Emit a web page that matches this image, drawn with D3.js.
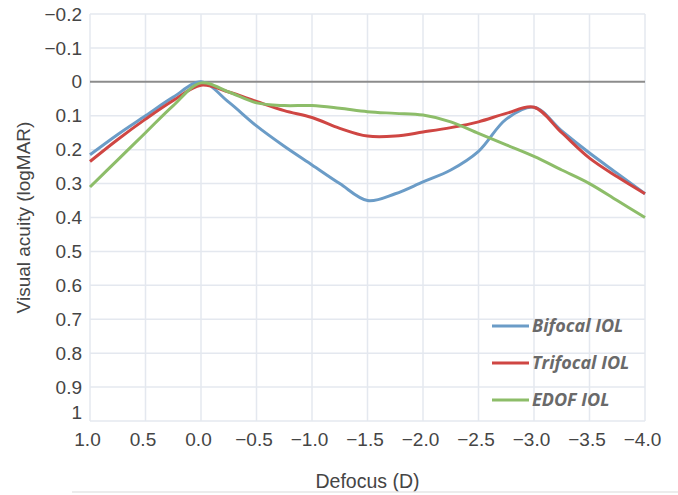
<!DOCTYPE html>
<html>
<head>
<meta charset="utf-8">
<script src="https://cdn.jsdelivr.net/npm/d3@7"></script>
<style>
  html, body { margin: 0; padding: 0; background: #fff; }
  svg { display: block; }
</style>
</head>
<body>
<div id="chart"></div>
<script>
// defocus values (D)
const defocus = [1.0, 0.75, 0.5, 0.25, 0.0, -0.25, -0.5, -0.75, -1.0, -1.25, -1.5, -1.75,
  -2.0, -2.25, -2.5, -2.75, -3.0, -3.25, -3.5, -3.75, -4.0];

const bifocal = [0.215, 0.155, 0.10, 0.045, 0.0, 0.06, 0.13, 0.19, 0.245, 0.30, 0.35, 0.33,
  0.295, 0.26, 0.205, 0.11, 0.075, 0.145, 0.21, 0.27, 0.33];
const trifocal = [0.235, 0.17, 0.11, 0.055, 0.01, 0.03, 0.058, 0.085, 0.105, 0.137, 0.16, 0.16,
  0.148, 0.135, 0.118, 0.093, 0.075, 0.15, 0.225, 0.28, 0.33];
const edof = [0.31, 0.23, 0.15, 0.07, 0.003, 0.03, 0.062, 0.07, 0.07, 0.078, 0.088, 0.093,
  0.098, 0.118, 0.152, 0.186, 0.22, 0.26, 0.30, 0.35, 0.40];

const seriesNames = ['Bifocal IOL', 'Trifocal IOL', 'EDOF IOL'];
const seriesValues = [bifocal, trifocal, edof];
const seriesColors = ['#6b9cc7', '#cf4643', '#8dbd69'];

const xTicks = [1.0, 0.5, 0.0, -0.5, -1.0, -1.5, -2.0, -2.5, -3.0, -3.5, -4.0];
const yTicks = [-0.2, -0.1, 0, 0.1, 0.2, 0.3, 0.4, 0.5, 0.6, 0.7, 0.8, 0.9, 1];

const config = {
  width: 678,
  height: 495,
  margin: {top: 14, right: 33, bottom: 74, left: 90}
};
const plotW = config.width - config.margin.left - config.margin.right;
const plotH = config.height - config.margin.top - config.margin.bottom;

const xScale = d3.scaleLinear().domain([1.0, -4.0]).range([0, plotW]);
const yScale = d3.scaleLinear().domain([-0.2, 1]).range([0, plotH]);

const svg = d3.select('#chart').append('svg')
  .attr('width', config.width)
  .attr('height', config.height);

const g = svg.append('g')
  .attr('transform', `translate(${config.margin.left},${config.margin.top})`);

const fmtMinus = s => s.replace('-', '\u2212');
const labelFont = 'Liberation Sans, Arial, sans-serif';

// grid
g.append('g')
  .selectAll('line')
  .data(xTicks)
  .enter()
  .append('line')
  .attr('x1', d => xScale(d))
  .attr('x2', d => xScale(d))
  .attr('y1', 0)
  .attr('y2', plotH)
  .attr('stroke', '#e4e8ef')
  .attr('stroke-width', 1.5);

g.append('g')
  .selectAll('line')
  .data(yTicks)
  .enter()
  .append('line')
  .attr('x1', 0)
  .attr('x2', plotW)
  .attr('y1', d => yScale(d))
  .attr('y2', d => yScale(d))
  .attr('stroke', d => d === 0 ? '#8c8c8c' : '#e4e8ef')
  .attr('stroke-width', d => d === 0 ? 2 : 1.5);

// y axis labels
const yAxis = g.append('g')
  .call(d3.axisLeft(yScale).tickValues(yTicks).tickSize(0).tickPadding(8)
    .tickFormat(d => d === 0 ? '0' : (d === 1 ? '1' : fmtMinus(d3.format('.1f')(d)))));
yAxis.select('.domain').remove();
yAxis.selectAll('text')
  .attr('font-family', labelFont)
  .attr('font-size', 19)
  .attr('fill', '#454545');
yAxis.selectAll('.tick').filter(d => d === 1).select('text').attr('dy', '-0.15em');

// x axis labels
const xAxis = g.append('g')
  .attr('transform', `translate(0,${plotH})`)
  .call(d3.axisBottom(xScale).tickValues(xTicks).tickSize(0).tickPadding(12)
    .tickFormat(d => fmtMinus(d3.format('.1f')(d))));
xAxis.select('.domain').remove();
xAxis.selectAll('text')
  .attr('font-family', labelFont)
  .attr('font-size', 19)
  .attr('fill', '#454545')
  .attr('dx', -3);

// axis titles
svg.append('text')
  .attr('x', config.margin.left + plotW / 2)
  .attr('y', 488)
  .attr('text-anchor', 'middle')
  .attr('font-family', labelFont)
  .attr('font-size', 19.5)
  .attr('fill', '#454545')
  .text('Defocus (D)');

svg.append('text')
  .attr('transform', `translate(30,${config.margin.top + plotH / 2}) rotate(-90)`)
  .attr('text-anchor', 'middle')
  .attr('font-family', labelFont)
  .attr('font-size', 19)
  .attr('fill', '#454545')
  .text('Visual acuity (logMAR)');

// bottom rule
svg.append('line')
  .attr('x1', 72).attr('x2', 678)
  .attr('y1', 492).attr('y2', 492)
  .attr('stroke', '#e6e6e6')
  .attr('stroke-width', 1.5);

// lines
const line = d3.line()
  .x((d, i) => xScale(defocus[i]))
  .y(d => yScale(d))
  .curve(d3.curveCatmullRom.alpha(0.5));

g.append('g')
  .selectAll('path')
  .data(seriesValues)
  .enter()
  .append('path')
  .attr('fill', 'none')
  .attr('stroke', (d, i) => seriesColors[i])
  .attr('stroke-width', 3)
  .attr('stroke-linejoin', 'round')
  .attr('d', line);

// legend
const legend = svg.append('g').attr('transform', 'translate(492,326)');
const legendItem = legend.selectAll('g')
  .data(seriesNames)
  .enter()
  .append('g')
  .attr('transform', (d, i) => `translate(0,${i * 37})`);
legendItem.append('line')
  .attr('x1', 0).attr('x2', 37)
  .attr('y1', 0).attr('y2', 0)
  .attr('stroke', (d, i) => seriesColors[i])
  .attr('stroke-width', 3);
legendItem.append('text')
  .attr('x', 40)
  .attr('y', 0)
  .attr('dy', '0.35em')
  .attr('font-family', 'Open Sans, sans-serif')
  .attr('font-style', 'italic')
  .attr('font-weight', 'bold')
  .attr('font-size', 18)
  .attr('fill', '#6a6a6a')
  .text(d => d);
</script>
</body>
</html>
